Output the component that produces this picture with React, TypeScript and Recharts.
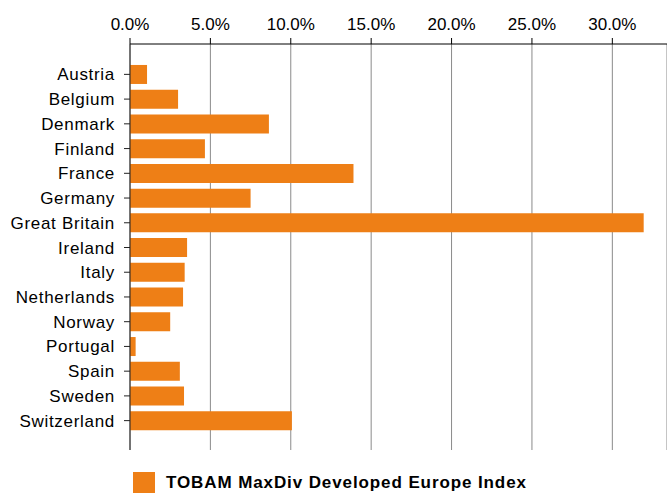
import { BarChart, Bar, XAxis, YAxis, CartesianGrid } from "recharts";

const countries = [
  "Austria",
  "Belgium",
  "Denmark",
  "Finland",
  "France",
  "Germany",
  "Great Britain",
  "Ireland",
  "Italy",
  "Netherlands",
  "Norway",
  "Portugal",
  "Spain",
  "Sweden",
  "Switzerland",
];

// weights as fractions
const weights = [
  0.0106, 0.0299, 0.0864, 0.0466, 0.139, 0.075, 0.3195, 0.0355, 0.034, 0.033,
  0.025, 0.0035, 0.031, 0.0336, 0.1007,
];

const xTicks = [0, 0.05, 0.1, 0.15, 0.2, 0.25, 0.3];

const seriesName = "TOBAM MaxDiv Developed Europe Index";
const ORANGE = "#EE7F16";
const FONT = "'Liberation Sans', Arial, sans-serif";

const data = countries.map((name, i) => ({ name, weight: weights[i] }));

const pct = (v: number) => `${(v * 100).toFixed(1)}%`;

export default function App() {
  return (
    <div style={{ position: "absolute", left: 0, top: 0, width: 667, height: 494, fontFamily: FONT }}>
      <BarChart
        width={667}
        height={494}
        data={data}
        layout="vertical"
        margin={{ top: 0, right: 0, left: 0, bottom: 44 }}
        barCategoryGap="12%"
      >
        <CartesianGrid horizontal={false} stroke="#8a8a8a" />
        <XAxis
          type="number"
          orientation="top"
          height={44}
          domain={[0, 0.334]}
          ticks={xTicks}
          tickFormatter={pct}
          allowDataOverflow
          stroke="#000"
          tickSize={6}
          tickMargin={8}
          tick={{ fill: "#000", fontSize: 17, fontFamily: FONT }}
        />
        <YAxis
          type="category"
          dataKey="name"
          width={130}
          interval={0}
          padding={{ top: 18, bottom: 17 }}
          stroke="#222"
          tickSize={6}
          tickMargin={9}
          tick={{ fill: "#000", fontSize: 17, fontFamily: FONT, letterSpacing: 0.7 }}
        />
        <Bar dataKey="weight" name={seriesName} fill={ORANGE} isAnimationActive={false} />
      </BarChart>
      <div
        style={{
          position: "absolute",
          left: 133,
          top: 472,
          display: "flex",
          alignItems: "center",
          fontSize: 17,
          fontWeight: "bold",
          letterSpacing: 0.9,
          whiteSpace: "nowrap",
          color: "#000",
        }}
      >
        <span style={{ display: "inline-block", width: 22, height: 21, background: ORANGE, marginRight: 11 }} />
        {seriesName}
      </div>
    </div>
  );
}
